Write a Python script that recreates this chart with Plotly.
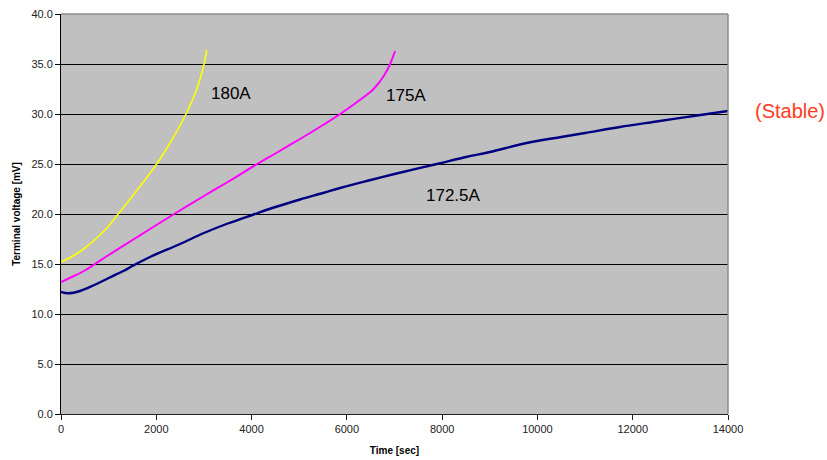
import plotly.graph_objects as go

# Terminal voltage vs. time at three currents
t_180 = [0, 250, 500, 750, 1000, 1200, 1518, 2008, 2300, 2624, 2850, 3002, 3058]
v_180 = [15.2, 15.8, 16.6, 17.6, 18.8, 20.0, 21.9, 25.0, 27.2, 30.0, 32.5, 35.0, 36.4]

t_175 = [0, 250, 500, 714, 1000, 1500, 1868, 2375, 3000, 3500, 4120, 4500, 5017,
         5500, 5860, 6300, 6550, 6700, 6800, 6900, 7011]
v_175 = [13.2, 13.75, 14.35, 15.0, 15.9, 17.4, 18.5, 20.0, 21.8, 23.2, 25.0, 26.05, 27.5,
         28.9, 30.0, 31.5, 32.45, 33.3, 34.0, 34.9, 36.3]

t_1725 = [0, 150, 400, 700, 1000, 1308, 1518, 1868, 2500, 3000, 3500, 4040, 4500, 5017,
          5500, 5856, 6500, 7000, 7890, 8500, 9000, 9775, 10500, 11000, 11733, 12500,
          13350, 14000]
v_1725 = [12.2, 12.07, 12.3, 12.9, 13.6, 14.3, 14.85, 15.7, 17.0, 18.1, 19.05, 19.95, 20.7, 21.45,
          22.1, 22.6, 23.4, 24.0, 25.0, 25.7, 26.2, 27.1, 27.7, 28.1, 28.7, 29.25,
          29.85, 30.3]

x_ticks = [0, 2000, 4000, 6000, 8000, 10000, 12000, 14000]
y_ticks = [0, 5, 10, 15, 20, 25, 30, 35, 40]

font_family = "Arial, 'Liberation Sans', sans-serif"

fig = go.Figure()
fig.add_trace(go.Scatter(x=t_1725, y=v_1725, mode="lines", name="172.5A",
                         line=dict(color="#000080", width=2.4, shape="spline")))
fig.add_trace(go.Scatter(x=t_175, y=v_175, mode="lines", name="175A",
                         line=dict(color="#FF00FF", width=2, shape="spline")))
fig.add_trace(go.Scatter(x=t_180, y=v_180, mode="lines", name="180A",
                         line=dict(color="#FFFF00", width=1.6, shape="spline")))

# Curve labels
curve_labels = [("180A", 3560, 32.1), ("175A", 7235, 31.9), ("172.5A", 8235, 21.9)]
for text, xv, yv in curve_labels:
    fig.add_annotation(x=xv, y=yv, xref="x", yref="y", text=text, showarrow=False,
                       font=dict(family=font_family, size=17, color="#000000"))

fig.add_annotation(x=1.0937, y=(414 - 111) / 400, xref="paper", yref="paper",
                   xanchor="center", yanchor="middle",
                   text="(Stable)", showarrow=False,
                   font=dict(family=font_family, size=20, color="#FF3C1E"))

# Gray frame on the top and right sides of the plot area
fig.add_shape(type="line", xref="paper", yref="paper", x0=0, x1=1, y0=1, y1=1,
              line=dict(color="#8C8C8C", width=1.5), layer="above")
fig.add_shape(type="line", xref="paper", yref="paper", x0=1, x1=1, y0=0, y1=1,
              line=dict(color="#8C8C8C", width=1.5), layer="above")

fig.update_layout(
    width=827, height=460,
    margin=dict(l=61, r=99, t=14, b=46, autoexpand=False),
    paper_bgcolor="#FFFFFF",
    plot_bgcolor="#C0C0C0",
    showlegend=False,
    font=dict(family=font_family, size=11, color="#222222"),
)

fig.update_xaxes(
    range=[0, 14000], tickvals=x_ticks, tickformat="d", automargin=False,
    showgrid=False, zeroline=False,
    showline=True, linecolor="#222222", linewidth=1,
    ticks="outside", ticklen=5, tickcolor="#222222",
    tickfont=dict(size=11),
    title=dict(text="<b>Time [sec]</b>", font=dict(size=10, color="#000000"), standoff=12),
)
fig.update_yaxes(
    range=[0, 40], tickvals=y_ticks, tickformat=".1f", automargin=False,
    showgrid=True, gridcolor="#000000", gridwidth=1, zeroline=False,
    showline=True, linecolor="#000000", linewidth=1,
    ticks="outside", ticklen=5, tickcolor="#000000",
    tickfont=dict(size=11),
    title=dict(text="<b>Terminal voltage [mV]</b>", font=dict(size=10, color="#000000"), standoff=8),
)

fig.write_html("out.html")
